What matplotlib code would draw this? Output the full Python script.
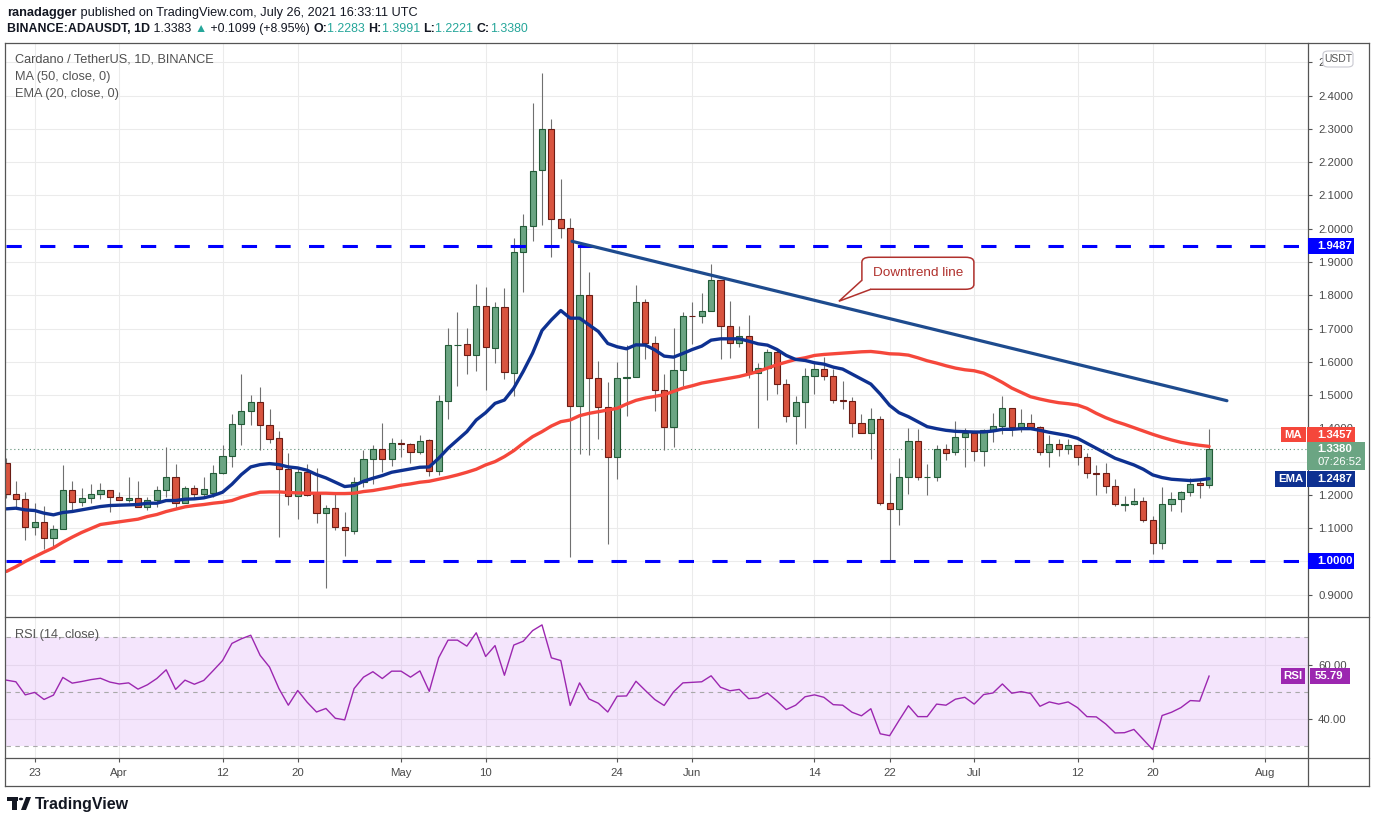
import matplotlib
matplotlib.use("Agg")
import matplotlib.pyplot as plt
import numpy as np
import pandas as pd
from matplotlib.patches import Rectangle, FancyBboxPatch, Polygon, Circle
from matplotlib.lines import Line2D

plt.rcParams['font.family'] = ['Liberation Sans', 'DejaVu Sans']

W, H = 1376, 823

# ---- data ----
start_date = "2021-03-20"

opens = [1.296, 1.202, 1.187, 1.103, 1.118, 1.069, 1.097, 1.215, 1.178, 1.190,
         1.202, 1.215, 1.193, 1.184, 1.190, 1.163, 1.184, 1.215, 1.254, 1.175,
         1.221, 1.202, 1.205, 1.266, 1.317, 1.414, 1.453, 1.480, 1.411, 1.372,
         1.279, 1.196, 1.269, 1.205, 1.145, 1.160, 1.103, 1.091, 1.239, 1.308,
         1.338, 1.308, 1.355, 1.353, 1.329, 1.366, 1.272, 1.481, 1.650, 1.653,
         1.620, 1.767, 1.641, 1.764, 1.566, 1.930, 2.008, 2.177, 2.300, 2.029,
         2.002, 1.466, 1.800, 1.551, 1.463, 1.313, 1.551, 1.553, 1.779, 1.656,
         1.515, 1.404, 1.575, 1.739, 1.738, 1.753, 1.847, 1.708, 1.657, 1.678,
         1.566, 1.581, 1.630, 1.533, 1.437, 1.479, 1.557, 1.578, 1.557, 1.486,
         1.483, 1.417, 1.387, 1.429, 1.175, 1.157, 1.254, 1.363, 1.253, 1.254,
         1.338, 1.329, 1.375, 1.387, 1.332, 1.396, 1.408, 1.462, 1.405, 1.417,
         1.405, 1.330, 1.352, 1.337, 1.349, 1.313, 1.265, 1.265, 1.226, 1.171,
         1.172, 1.181, 1.124, 1.054, 1.172, 1.187, 1.208, 1.235, 1.2283]
highs = [1.312, 1.243, 1.208, 1.175, 1.167, 1.108, 1.290, 1.243, 1.222, 1.234,
         1.236, 1.215, 1.208, 1.253, 1.243, 1.195, 1.228, 1.344, 1.294, 1.228,
         1.231, 1.255, 1.291, 1.351, 1.442, 1.563, 1.500, 1.524, 1.459, 1.391,
         1.326, 1.284, 1.293, 1.281, 1.169, 1.202, 1.148, 1.255, 1.335, 1.350,
         1.415, 1.372, 1.369, 1.356, 1.381, 1.369, 1.500, 1.702, 1.750, 1.702,
         1.835, 1.825, 1.780, 1.822, 1.972, 2.045, 2.379, 2.469, 2.331, 2.150,
         2.032, 1.952, 1.871, 1.603, 1.540, 1.599, 1.650, 1.831, 1.789, 1.678,
         1.564, 1.702, 1.751, 1.781, 1.806, 1.893, 1.847, 1.784, 1.708, 1.742,
         1.596, 1.638, 1.638, 1.548, 1.496, 1.581, 1.599, 1.614, 1.578, 1.541,
         1.495, 1.444, 1.462, 1.438, 1.266, 1.311, 1.402, 1.399, 1.293, 1.350,
         1.353, 1.423, 1.402, 1.387, 1.399, 1.447, 1.498, 1.462, 1.459, 1.444,
         1.408, 1.380, 1.367, 1.367, 1.349, 1.325, 1.289, 1.295, 1.247, 1.196,
         1.220, 1.193, 1.136, 1.223, 1.208, 1.211, 1.250, 1.247, 1.3991]
lows = [1.190, 1.157, 1.064, 1.080, 1.038, 1.044, 1.097, 1.155, 1.168, 1.177,
        1.189, 1.150, 1.184, 1.180, 1.163, 1.154, 1.163, 1.195, 1.159, 1.175,
        1.191, 1.193, 1.195, 1.262, 1.284, 1.349, 1.411, 1.335, 1.356, 1.073,
        1.171, 1.127, 1.196, 1.115, 0.920, 1.093, 1.017, 1.082, 1.224, 1.233,
        1.269, 1.286, 1.313, 1.295, 1.322, 1.256, 1.259, 1.429, 1.526, 1.562,
        1.571, 1.516, 1.595, 1.548, 1.498, 1.811, 1.963, 2.011, 1.915, 1.972,
        1.012, 1.322, 1.319, 1.367, 1.051, 1.247, 1.436, 1.553, 1.609, 1.451,
        1.334, 1.345, 1.526, 1.653, 1.717, 1.753, 1.608, 1.611, 1.645, 1.550,
        1.400, 1.484, 1.504, 1.418, 1.354, 1.400, 1.504, 1.544, 1.476, 1.459,
        1.375, 1.387, 1.308, 1.169, 1.000, 1.109, 1.202, 1.245, 1.199, 1.242,
        1.305, 1.320, 1.284, 1.302, 1.287, 1.360, 1.384, 1.378, 1.390, 1.405,
        1.320, 1.285, 1.317, 1.323, 1.289, 1.250, 1.199, 1.205, 1.166, 1.151,
        1.169, 1.118, 1.021, 1.036, 1.151, 1.148, 1.196, 1.190, 1.2221]
closes = [1.202, 1.187, 1.103, 1.118, 1.069, 1.097, 1.215, 1.178, 1.190, 1.202,
          1.215, 1.193, 1.184, 1.190, 1.163, 1.184, 1.215, 1.254, 1.175, 1.221,
          1.202, 1.218, 1.266, 1.317, 1.414, 1.453, 1.480, 1.411, 1.369, 1.279,
          1.196, 1.269, 1.199, 1.145, 1.160, 1.103, 1.094, 1.239, 1.308, 1.338,
          1.308, 1.356, 1.352, 1.329, 1.362, 1.272, 1.483, 1.650, 1.651, 1.620,
          1.767, 1.644, 1.764, 1.569, 1.930, 2.008, 2.174, 2.300, 2.029, 2.002,
          1.466, 1.800, 1.551, 1.463, 1.313, 1.551, 1.553, 1.779, 1.656, 1.515,
          1.404, 1.575, 1.738, 1.737, 1.753, 1.847, 1.708, 1.657, 1.678, 1.566,
          1.581, 1.630, 1.533, 1.437, 1.479, 1.557, 1.578, 1.557, 1.486, 1.483,
          1.417, 1.387, 1.429, 1.175, 1.157, 1.254, 1.363, 1.254, 1.255, 1.338,
          1.326, 1.375, 1.387, 1.332, 1.396, 1.408, 1.462, 1.405, 1.417, 1.405,
          1.329, 1.352, 1.337, 1.349, 1.313, 1.265, 1.263, 1.226, 1.172, 1.173,
          1.181, 1.124, 1.054, 1.172, 1.187, 1.208, 1.232, 1.229, 1.3380]

ma50 = [0.970, 0.984, 1.000, 1.014, 1.028, 1.041, 1.058, 1.073, 1.087, 1.099,
        1.111, 1.115, 1.119, 1.123, 1.127, 1.135, 1.141, 1.150, 1.157, 1.164,
        1.168, 1.171, 1.175, 1.178, 1.183, 1.193, 1.201, 1.208, 1.209, 1.209,
        1.207, 1.206, 1.205, 1.205, 1.205, 1.204, 1.204, 1.205, 1.210, 1.213,
        1.218, 1.223, 1.229, 1.233, 1.238, 1.241, 1.247, 1.253, 1.260, 1.268,
        1.277, 1.290, 1.300, 1.315, 1.333, 1.355, 1.375, 1.390, 1.407, 1.420,
        1.425, 1.438, 1.445, 1.450, 1.455, 1.460, 1.473, 1.484, 1.491, 1.496,
        1.501, 1.511, 1.521, 1.528, 1.536, 1.541, 1.546, 1.551, 1.556, 1.563,
        1.571, 1.581, 1.591, 1.599, 1.607, 1.612, 1.619, 1.622, 1.624, 1.626,
        1.628, 1.630, 1.631, 1.628, 1.624, 1.623, 1.620, 1.612, 1.603, 1.596,
        1.588, 1.581, 1.576, 1.573, 1.566, 1.553, 1.538, 1.521, 1.508, 1.495,
        1.488, 1.482, 1.477, 1.474, 1.470, 1.460, 1.445, 1.432, 1.421, 1.412,
        1.402, 1.392, 1.382, 1.373, 1.365, 1.358, 1.353, 1.349, 1.3457]
ema20 = [1.158, 1.160, 1.155, 1.153, 1.145, 1.140, 1.147, 1.150, 1.155, 1.160,
         1.165, 1.168, 1.169, 1.170, 1.171, 1.175, 1.175, 1.183, 1.183, 1.187,
         1.188, 1.191, 1.198, 1.208, 1.232, 1.261, 1.284, 1.291, 1.294, 1.291,
         1.284, 1.281, 1.274, 1.261, 1.251, 1.238, 1.225, 1.228, 1.241, 1.250,
         1.258, 1.268, 1.273, 1.278, 1.283, 1.284, 1.310, 1.340, 1.365, 1.390,
         1.425, 1.447, 1.475, 1.485, 1.521, 1.571, 1.626, 1.694, 1.726, 1.754,
         1.731, 1.731, 1.711, 1.691, 1.655, 1.645, 1.639, 1.651, 1.650, 1.636,
         1.617, 1.614, 1.625, 1.637, 1.647, 1.665, 1.669, 1.669, 1.669, 1.662,
         1.654, 1.650, 1.637, 1.619, 1.607, 1.604, 1.597, 1.593, 1.584, 1.578,
         1.563, 1.548, 1.533, 1.503, 1.469, 1.447, 1.435, 1.420, 1.405, 1.399,
         1.394, 1.391, 1.390, 1.389, 1.389, 1.392, 1.397, 1.397, 1.399, 1.399,
         1.394, 1.388, 1.383, 1.378, 1.370, 1.355, 1.340, 1.325, 1.310, 1.300,
         1.290, 1.277, 1.260, 1.252, 1.247, 1.245, 1.243, 1.245, 1.2487]
rsi14 = [54.3, 53.7, 48.9, 49.8, 47.2, 48.8, 55.3, 53.2, 53.8, 54.5,
         55.0, 53.6, 52.9, 53.3, 51.0, 52.6, 54.9, 58.1, 50.9, 54.3,
         52.8, 54.2, 57.8, 61.5, 67.8, 69.5, 70.8, 63.4, 59.1, 51.2,
         45.1, 50.5, 46.2, 42.6, 43.9, 40.3, 39.7, 51.2, 55.4, 57.4,
         54.9, 57.6, 57.6, 55.4, 57.7, 50.2, 62.5, 69.0, 69.0, 66.8,
         71.7, 63.0, 67.0, 56.1, 67.2, 68.6, 72.5, 74.6, 62.5, 61.5,
         45.0, 53.3, 47.4, 45.8, 42.6, 48.4, 48.5, 53.9, 50.5, 47.2,
         45.0, 50.0, 53.3, 53.5, 53.7, 55.9, 51.7, 50.4, 50.9, 47.5,
         47.8, 49.6, 46.7, 43.5, 45.1, 48.2, 48.9, 48.0, 45.3, 45.1,
         42.5, 41.2, 43.8, 34.6, 33.9, 39.5, 44.9, 40.9, 40.9, 45.5,
         45.1, 47.3, 48.0, 45.5, 49.0, 49.6, 52.9, 49.5, 50.1, 49.4,
         44.7, 46.3, 45.5, 46.3, 44.2, 40.9, 40.8, 38.2, 34.9, 35.0,
         36.2, 32.5, 28.8, 41.3, 42.5, 44.2, 46.8, 46.6, 55.79]

support = 1.0
resistance = 1.9487
# downtrend line end points (days since start, price)
trend_x = [60.2, 129.9]
trend_y = [1.962, 1.483]

tick_dates = ["2021-03-23", "2021-04-01", "2021-04-12", "2021-04-20", "2021-05-01",
              "2021-05-10", "2021-05-24", "2021-06-01", "2021-06-14", "2021-06-22",
              "2021-07-01", "2021-07-12", "2021-07-20", "2021-08-01"]
tick_labels = ["23", "Apr", "12", "20", "May", "10", "24", "Jun", "14", "22",
               "Jul", "12", "20", "Aug"]

price_ticks = [0.9, 1.0, 1.1, 1.2, 1.3, 1.4, 1.5, 1.6, 1.7, 1.8, 1.9, 2.0, 2.1, 2.2, 2.3, 2.4, 2.5]
# labels hidden behind the badges on the scale are left out; 2.5 shows only its first digit
price_labels = ["0.9000", "", "1.1000", "1.2000", "", "1.4000", "1.5000", "1.6000",
                "1.7000", "1.8000", "1.9000", "2.0000", "2.1000", "2.2000", "2.3000",
                "2.4000", "2"]

# ---- colours ----
UP_FILL, UP_EDGE = '#6ba583', '#225b37'
DN_FILL, DN_EDGE = '#d8543f', '#6b1c14'
WICK = '#707070'
EMA_C = '#0e3191'
MA_C = '#f5473b'
LEVEL_C = '#0000ff'
TREND_C = '#1e4b8e'
RSI_C = '#9c27b0'
GRID_C = '#ebebeb'
AXIS_TXT = '#4a4a4a'
FRAME_C = '#555555'

fig = plt.figure(figsize=(W / 100, H / 100), dpi=100)
fig.patch.set_facecolor('white')


def fbox(x0, y0, x1, y1):
    return [x0 / W, 1 - y1 / H, (x1 - x0) / W, (y1 - y0) / H]


ax = fig.add_axes(fbox(6, 43, 1308, 617))
rax = fig.add_axes(fbox(6, 617, 1308, 758), sharex=ax)

o = np.array(opens); hi = np.array(highs); lo = np.array(lows); c = np.array(closes)
x = np.arange(len(c))
t0 = pd.Timestamp(start_date)
tick_pos = [(pd.Timestamp(d) - t0).days for d in tick_dates]

ax.set_xlim(-0.05, 138.53)
ax.set_ylim(0.833, 2.558)
rax.set_ylim(25.7, 77.5)

# ---- candles ----
up = c >= o
ax.vlines(x, lo, hi, color=WICK, lw=0.8, zorder=2)
ax.bar(x, np.maximum(np.abs(c - o), 0.0016), bottom=np.minimum(o, c), width=0.66,
       color=np.where(up, UP_FILL, DN_FILL), edgecolor=np.where(up, UP_EDGE, DN_EDGE),
       linewidth=0.8, zorder=3)

ax.plot(x, ma50, color=MA_C, lw=2.4, zorder=4, solid_capstyle='round')
ax.plot(x, ema20, color=EMA_C, lw=2.4, zorder=4, solid_capstyle='round')
ax.axhline(c[-1], color='#5f9077', lw=0.8, ls=(0, (1, 2.5)), zorder=1.5)
for lvl in (support, resistance):
    ax.axhline(lvl, color=LEVEL_C, lw=2.2, dashes=(5, 6), zorder=5)
ax.plot(trend_x, trend_y, color=TREND_C, lw=2.3, zorder=5, solid_capstyle='round')

ax.set_yticks(price_ticks)
ax.set_yticklabels(price_labels)
ax.yaxis.tick_right()
ax.tick_params(axis='y', direction='out', length=3, width=0.8, color=FRAME_C, pad=4.3,
               labelsize=8.2, labelcolor=AXIS_TXT)
ax.set_xticks(tick_pos)
ax.tick_params(axis='x', length=0, labelbottom=False)
ax.grid(True, color=GRID_C, lw=0.75)
ax.set_axisbelow(True)

# ---- RSI ----
rax.axhspan(30, 70, color='#d49af5', alpha=0.25, lw=0, zorder=1)
for lv in (70, 50, 30):
    rax.axhline(lv, color='#a9a9a9', lw=0.8, dashes=(4, 4), zorder=1.5)
rax.plot(x, rsi14, color=RSI_C, lw=1.0, zorder=3)
rax.set_yticks([40, 60])
rax.set_yticklabels(["40.00", "60.00"])
rax.yaxis.tick_right()
rax.tick_params(axis='y', direction='out', length=3, width=0.8, color=FRAME_C, pad=4.3,
                labelsize=8.2, labelcolor=AXIS_TXT)
rax.set_xticks(tick_pos)
rax.set_xticklabels(tick_labels)
rax.tick_params(axis='x', direction='out', length=3, width=0.8, color=FRAME_C, pad=4,
                labelsize=8.2, labelcolor=AXIS_TXT)
rax.grid(True, color=GRID_C, lw=0.75, zorder=0)
rax.set_axisbelow(True)

for a in (ax, rax):
    for s in a.spines.values():
        s.set_visible(False)

# ---- frame lines (picture pixels) ----
def hline(y, x0=5, x1=1369):
    fig.add_artist(Line2D([x0 / W, x1 / W], [1 - y / H, 1 - y / H], color=FRAME_C, lw=0.9))


def vline(xp, y0=43, y1=786):
    fig.add_artist(Line2D([xp / W, xp / W], [1 - y0 / H, 1 - y1 / H], color=FRAME_C, lw=0.9))


for yy in (43, 617, 758, 786):
    hline(yy)
for xx in (5, 1308, 1369):
    vline(xx)

# ---- badges on the price scale ----
def pix_y(axis, v):
    return H - axis.transData.transform((0, v))[1]


def box(x0, x1, y0, y1, color, z=10, edge='none'):
    fig.add_artist(Rectangle((x0 / W, 1 - y1 / H), (x1 - x0) / W, (y1 - y0) / H,
                             transform=fig.transFigure, facecolor=color,
                             edgecolor=edge, lw=0.8, zorder=z))


def label(xp, yp, s, color='white', size=8.2, weight='bold', ha='left', z=11):
    fig.text(xp / W, 1 - yp / H, s, color=color, fontsize=size, fontweight=weight,
             ha=ha, va='center', zorder=z)


for lvl in (resistance, support):
    yc = pix_y(ax, lvl)
    box(1308, 1354, yc - 8, yc + 8, LEVEL_C)
    label(1317.5, yc, f"{lvl:.4f}")

close_y = pix_y(ax, c[-1])
box(1307, 1365, close_y - 7, close_y + 21, UP_FILL)
label(1317.5, close_y, f"{c[-1]:.4f}")
label(1317.5, close_y + 13.5, "07:26:52", weight='normal')

ma_bot = close_y - 7
box(1281, 1306, ma_bot - 14.6, ma_bot, MA_C)
box(1307, 1355, ma_bot - 14.6, ma_bot, MA_C)
label(1293.5, ma_bot - 7.3, "MA", ha='center')
label(1317.5, ma_bot - 7.3, f"{ma50[-1]:.4f}")

ema_y = pix_y(ax, ema20[-1])
box(1275, 1306, ema_y - 8, ema_y + 8, EMA_C)
box(1307, 1355, ema_y - 8, ema_y + 8, EMA_C)
label(1290.5, ema_y, "EMA", ha='center')
label(1317.5, ema_y, f"{ema20[-1]:.4f}")

rsi_y = pix_y(rax, rsi14[-1])
box(1281, 1305, rsi_y - 8, rsi_y + 8, RSI_C)
box(1310, 1350, rsi_y - 8, rsi_y + 8, RSI_C)
label(1293, rsi_y, "RSI", ha='center')
label(1315, rsi_y, f"{rsi14[-1]:.2f}")

# USDT badge at the top of the scale
fig.add_artist(FancyBboxPatch((1323 / W, 1 - 67 / H), 30 / W, 16 / H,
                              boxstyle="round,pad=0,rounding_size=0.004",
                              transform=fig.transFigure, facecolor='white',
                              edgecolor='#c9c9d1', lw=0.8, zorder=10))
label(1338, 59, "USDT", color='#555555', size=7.5, weight='normal', ha='center')

# ---- callout ----
tip_i = 88.6
tip_p = trend_y[0] + (tip_i - trend_x[0]) * (trend_y[1] - trend_y[0]) / (trend_x[1] - trend_x[0])
tx, ty = ax.transData.transform((tip_i, tip_p))
ty = H - ty - 5
CALL_C = '#b0312d'
fig.add_artist(FancyBboxPatch(((tx + 23) / W, 1 - (ty - 12) / H), 112 / W, 32 / H,
                              boxstyle="round,pad=0,rounding_size=0.006",
                              transform=fig.transFigure, facecolor='white',
                              edgecolor=CALL_C, lw=1.1, zorder=12))
tail = [((tx + 23) / W, 1 - (ty - 21) / H), (tx / W, 1 - ty / H), ((tx + 32) / W, 1 - (ty - 12) / H)]
fig.add_artist(Polygon(tail, closed=False, facecolor='white', edgecolor=CALL_C, lw=1.1,
                       transform=fig.transFigure, zorder=13))
label(tx + 79, ty - 28, "Downtrend line", color=CALL_C, size=9.7, weight='normal', ha='center', z=14)

# ---- legends / header ----
label(15, 60, "Cardano / TetherUS, 1D, BINANCE", color='#505050', size=9.2, weight='normal')
label(15, 77, "MA (50, close, 0)", color='#555555', size=9.2, weight='normal')
label(15, 94, "EMA (20, close, 0)", color='#555555', size=9.2, weight='normal')
label(15, 635, "RSI (14, close)", color='#555555', size=9.2, weight='normal')

renderer = fig.canvas.get_renderer()


def seq_text(xp, yp, parts, size=9.2):
    for s, color, weight in parts:
        t = fig.text(xp / W, 1 - yp / H, s, color=color, fontsize=size, fontweight=weight,
                     ha='left', va='center')
        xp += t.get_window_extent(renderer=renderer).width


DARK = '#131722'
TEAL = '#26a69a'
seq_text(7, 13, [("ranadagger", DARK, 'bold'),
                 (" published on TradingView.com, July 26, 2021 16:33:11 UTC", DARK, 'normal')])
seq_text(7, 29, [("BINANCE:ADAUSDT, 1D", DARK, 'bold'), (" 1.3383 ", DARK, 'normal'),
                 ("\u25b2", TEAL, 'normal'), (" +0.1099 (+8.95%) ", DARK, 'normal'),
                 ("O:", DARK, 'bold'), ("1.2283 ", TEAL, 'normal'),
                 ("H:", DARK, 'bold'), ("1.3991 ", TEAL, 'normal'),
                 ("L:", DARK, 'bold'), ("1.2221 ", TEAL, 'normal'),
                 ("C:", DARK, 'bold'), ("1.3380", TEAL, 'normal')], size=8.9)

# ---- TradingView logo ----
LOGO = '#131722'
fig.add_artist(Rectangle((7 / W, 1 - 801 / H), 11 / W, 4 / H, transform=fig.transFigure,
                         facecolor=LOGO, edgecolor='none'))
fig.add_artist(Rectangle((12 / W, 1 - 810 / H), 5 / W, 13 / H, transform=fig.transFigure,
                         facecolor=LOGO, edgecolor='none'))
fig.add_artist(Circle((21 / W, 1 - 799 / H), 2.2 / W, transform=fig.transFigure,
                      facecolor=LOGO, edgecolor='none'))
fig.add_artist(Polygon([(21 / W, 1 - 810 / H), (26 / W, 1 - 797 / H), (31 / W, 1 - 797 / H),
                        (26 / W, 1 - 810 / H)], transform=fig.transFigure,
                       facecolor=LOGO, edgecolor='none'))
label(35, 804, "TradingView", color=LOGO, size=11.5, weight='bold')

fig.savefig("out.png", dpi=100, facecolor='white')
